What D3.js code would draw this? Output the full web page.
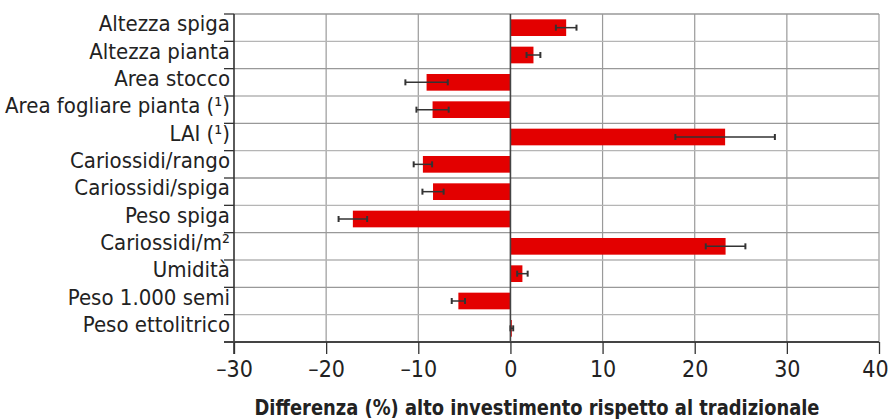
<!DOCTYPE html>
<html><head><meta charset="utf-8">
<script src="https://cdn.jsdelivr.net/npm/d3@7"></script>
<style>
html,body{margin:0;padding:0;background:#fff;}
svg{display:block;}
text{font-family:"DejaVu Sans Condensed","Liberation Sans Narrow",sans-serif;fill:#222;}
</style></head>
<body>
<svg id="chart" width="891" height="420"></svg>
<script>
const categories = ["Altezza spiga","Altezza pianta","Area stocco","Area fogliare pianta (¹)","LAI (¹)","Cariossidi/rango","Cariossidi/spiga","Peso spiga","Cariossidi/m²","Umidità","Peso 1.000 semi","Peso ettolitrico"];
const values = [6.05, 2.5, -9.1, -8.45, 23.3, -9.5, -8.4, -17.1, 23.35, 1.3, -5.65, 0.15];
const errors = [1.12, 0.75, 2.3, 1.75, 5.4, 1.0, 1.15, 1.55, 2.15, 0.57, 0.72, 0.15];
const tickValues = [-30,-20,-10,0,10,20,30,40];
const tickLabels = ["–30","–20","–10","0","10","20","30","40"];
const xTitle = "Differenza (%) alto investimento rispetto al tradizionale";

(function(){
const svg = d3.select("#chart");
const mLeft = 234, mRight = 879, mTop = 14, mBottom = 342;
const x = d3.scaleLinear().domain([-30,40]).range([mLeft,mRight]);
const y = d3.scaleBand().domain(categories).range([mTop,mBottom]).paddingInner(0.39).paddingOuter(0.195);
const step = y.step();

// vertical grid
svg.append("g").selectAll("line").data(tickValues.filter(v=>v>-30 && v!==0)).join("line")
  .attr("x1",d=>x(d)).attr("x2",d=>x(d)).attr("y1",mTop).attr("y2",mBottom)
  .attr("stroke",d=>d===40?"#c4c4c4":"#9a9a9a").attr("stroke-width",d=>d===40?2:1.2);

// horizontal grid at row boundaries
const bounds = d3.range(categories.length).map(i=>mTop+i*step);
svg.append("g").selectAll("line").data(bounds).join("line")
  .attr("x1",mLeft).attr("x2",mRight).attr("y1",d=>d).attr("y2",d=>d)
  .attr("stroke",(d,i)=>i%2? "#b5b5b5":"#999").attr("stroke-width",1.4);

// bars
svg.append("g").selectAll("rect").data(values).join("rect")
  .attr("x",d=>x(Math.min(0,d))).attr("width",d=>Math.abs(x(d)-x(0)))
  .attr("y",(d,i)=>y(categories[i])).attr("height",y.bandwidth())
  .attr("fill","#e30000");

// zero line
svg.append("line").attr("x1",x(0)).attr("x2",x(0)).attr("y1",mTop).attr("y2",mBottom)
  .attr("stroke","#444").attr("stroke-width",1.6);

// error bars
const eg = svg.append("g").attr("stroke","#333").attr("stroke-width",1.5);
values.forEach((v,i)=>{
  const cy = y(categories[i]) + y.bandwidth()/2;
  const x1 = x(v-errors[i]), x2 = x(v+errors[i]);
  eg.append("line").attr("x1",x1).attr("x2",x2).attr("y1",cy).attr("y2",cy);
  [x1,x2].forEach(xx=>eg.append("line").attr("x1",xx).attr("x2",xx).attr("y1",cy-3).attr("y2",cy+3).attr("stroke-width",2));
});

// left axis
svg.append("line").attr("x1",mLeft).attr("x2",mLeft).attr("y1",mTop).attr("y2",mBottom+12)
  .attr("stroke","#333").attr("stroke-width",1.6);
svg.append("g").selectAll("line").data(bounds.concat([mBottom])).join("line")
  .attr("x1",mLeft-10).attr("x2",mLeft).attr("y1",d=>d).attr("y2",d=>d)
  .attr("stroke","#333").attr("stroke-width",1.3);

// category labels
svg.append("g").selectAll("text").data(categories).join("text")
  .attr("x",230).attr("y",d=>y(d)+y.bandwidth()/2+3.5)
  .attr("text-anchor","end").attr("font-size",22).text(d=>d);

// bottom axis
const xAxis = d3.axisBottom(x).tickValues(tickValues).tickFormat((d,i)=>tickLabels[i]).tickSize(12).tickPadding(7);
const ga = svg.append("g").attr("transform",`translate(0,${mBottom})`).call(xAxis);
ga.select(".domain").attr("stroke","#444").attr("stroke-width",2.2).attr("d",`M${mLeft-10},0H${mRight}`);
ga.selectAll(".tick line").attr("stroke","#333").attr("stroke-width",1.3);
ga.selectAll(".tick text").attr("font-size",23).attr("fill","#222").attr("dy","0.71em")
  .attr("dx",d=>d===40?-4:0)
  .style("font-family",'"DejaVu Sans Condensed",sans-serif');

// axis title
svg.append("text").attr("x",537).attr("y",415).attr("text-anchor","middle")
  .attr("font-size",22).attr("font-weight","bold")
  .attr("textLength",565).attr("lengthAdjust","spacingAndGlyphs").text(xTitle);
})();
</script>
</body></html>
